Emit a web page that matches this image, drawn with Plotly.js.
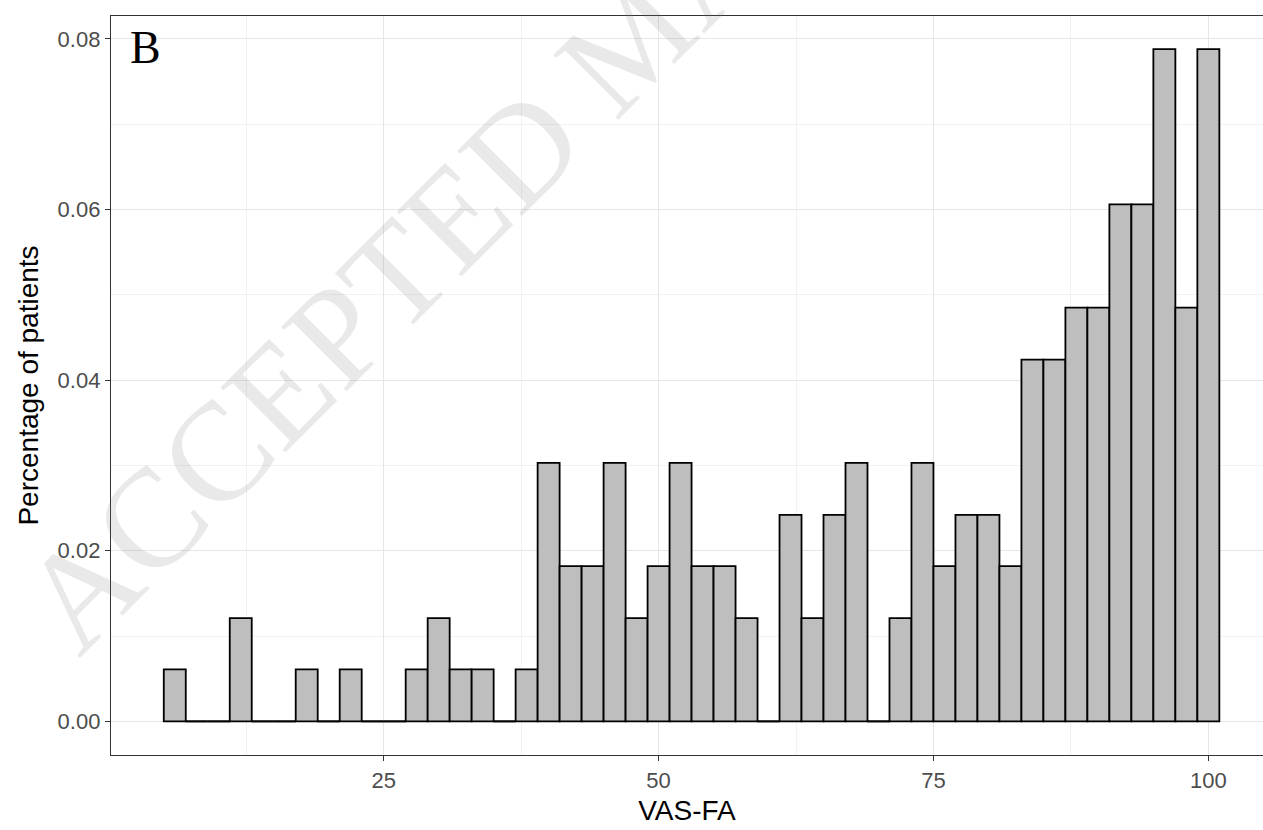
<!DOCTYPE html>
<html>
<head>
<meta charset="utf-8">
<script src="https://cdn.plot.ly/plotly-3.0.1.min.js"></script>
<style>
  html, body { margin: 0; padding: 0; background: #ffffff; }
  #chart { width: 1263px; height: 830px; }
</style>
</head>
<body>
<div id="chart"></div>
<script>
// Histogram bins (centers of 2-point wide VAS-FA bins)
const binCenters = [6, 8, 10, 12, 14, 16, 18, 20, 22, 24, 26, 28, 30, 32, 34, 36,
  38, 40, 42, 44, 46, 48, 50, 52, 54, 56, 58, 60, 62, 64, 66, 68,
  70, 72, 74, 76, 78, 80, 82, 84, 86, 88, 90, 92, 94, 96, 98, 100];

// Share of patients in each bin
const shareOfPatients = [0.0061, 0, 0, 0.0121, 0, 0, 0.0061, 0, 0.0061, 0, 0, 0.0061, 0.0121, 0.0061, 0.0061, 0,
  0.0061, 0.0303, 0.0182, 0.0182, 0.0303, 0.0121, 0.0182, 0.0303, 0.0182, 0.0182, 0.0121, 0, 0.0242, 0.0121, 0.0242, 0.0303,
  0, 0.0121, 0.0303, 0.0182, 0.0242, 0.0242, 0.0182, 0.0424, 0.0424, 0.0485, 0.0485, 0.0606, 0.0606, 0.0788, 0.0485, 0.0788];

const xTickVals = [25, 50, 75, 100];
const xTickText = ['25', '50', '75', '100'];
const yTickVals = [0, 0.02, 0.04, 0.06, 0.08];
const yTickText = ['0.00', '0.02', '0.04', '0.06', '0.08'];

const panelLabel = 'B';
const watermarkText = 'ACCEPTED MANUSCRIPT';
const xTitle = 'VAS-FA';
const yTitle = 'Percentage of patients';

// outlines of empty bins (ggplot draws them as flat lines on the baseline)
const halfBin = (binCenters[1] - binCenters[0]) / 2;
const emptyX = [], emptyY = [];
binCenters.forEach((c, i) => {
  if (shareOfPatients[i] === 0) {
    emptyX.push(c - halfBin, c + halfBin, null);
    emptyY.push(0, 0, null);
  }
});

const traces = [
  {
    type: 'bar',
    x: binCenters,
    y: shareOfPatients,
    marker: { color: '#BEBEBE', line: { color: '#000000', width: 1.8 } },
    hoverinfo: 'skip',
    showlegend: false
  },
  {
    type: 'scatter',
    mode: 'lines',
    x: emptyX,
    y: emptyY,
    line: { color: '#000000', width: 1.8 },
    hoverinfo: 'skip',
    showlegend: false,
    cliponaxis: false
  }
];

const axisFont = { family: 'Liberation Sans, Arial, sans-serif', size: 22, color: '#4D4D4D' };
const titleFont = { family: 'Liberation Sans, Arial, sans-serif', size: 28, color: '#000000' };

const layout = {
  width: 1263,
  height: 830,
  paper_bgcolor: '#ffffff',
  plot_bgcolor: '#ffffff',
  margin: { l: 111, r: 0, t: 16, b: 75, pad: 0 },
  bargap: 0,
  showlegend: false,
  xaxis: {
    range: [0.2, 104.97],
    tickmode: 'array',
    tickvals: xTickVals,
    ticktext: xTickText,
    ticks: 'outside',
    ticklen: 5,
    tickwidth: 1.1,
    tickcolor: '#333333',
    tickfont: axisFont,
    showline: true,
    linecolor: '#333333',
    linewidth: 1.2,
    mirror: true,
    showgrid: true,
    gridcolor: '#E6E6E6',
    gridwidth: 1.2,
    minor: { tickmode: 'array', tickvals: [12.5, 37.5, 62.5, 87.5], showgrid: true, gridcolor: '#EFEFEF', gridwidth: 0.8, ticks: '' },
    zeroline: false,
    title: { text: xTitle, font: titleFont, standoff: 8 }
  },
  yaxis: {
    range: [-0.00394, 0.08268],
    tickmode: 'array',
    tickvals: yTickVals,
    ticktext: yTickText,
    ticks: 'outside',
    ticklen: 5,
    tickwidth: 1.1,
    tickcolor: '#333333',
    tickfont: axisFont,
    showline: true,
    linecolor: '#333333',
    linewidth: 1.2,
    mirror: false,
    showgrid: true,
    gridcolor: '#E6E6E6',
    gridwidth: 1.2,
    minor: { tickmode: 'array', tickvals: [0.01, 0.03, 0.05, 0.07], showgrid: true, gridcolor: '#EFEFEF', gridwidth: 0.8, ticks: '' },
    zeroline: false,
    title: { text: yTitle, font: titleFont, standoff: 10 }
  },
  annotations: [
    {
      text: watermarkText,
      xref: 'paper', yref: 'paper',
      x: 0.4523, y: 0.9702,
      xanchor: 'center', yanchor: 'middle',
      textangle: -45,
      showarrow: false,
      font: { family: 'Liberation Serif, Times New Roman, serif', size: 140, color: 'rgba(120,120,120,0.16)' }
    },
    {
      text: panelLabel,
      xref: 'paper', yref: 'paper',
      x: 0.02995, y: 0.9567,
      xanchor: 'center', yanchor: 'middle',
      showarrow: false,
      font: { family: 'Liberation Serif, Times New Roman, serif', size: 46, color: '#000000' }
    }
  ]
};

Plotly.newPlot('chart', traces, layout, { displayModeBar: false, staticPlot: true });
</script>
</body>
</html>
